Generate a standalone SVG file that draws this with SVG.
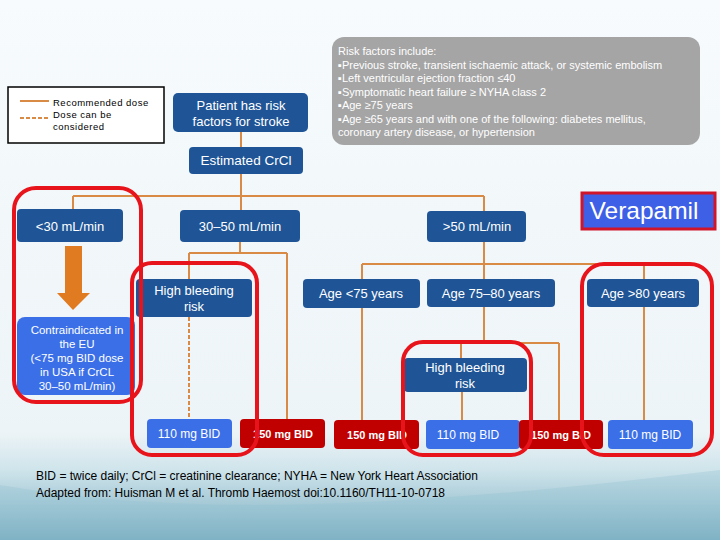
<svg xmlns="http://www.w3.org/2000/svg" width="720" height="540" viewBox="0 0 720 540">
<defs>
<linearGradient id="bg" x1="0" y1="0" x2="0" y2="1">
<stop offset="0" stop-color="#f7fbfd"/>
<stop offset="0.8" stop-color="#edf4f7"/>
<stop offset="0.87" stop-color="#cfe4eb"/>
<stop offset="1" stop-color="#79adc0"/>
</linearGradient>
<style>
.dk{fill:#1f5596}
.lb{fill:#3b6fe8}
.rd{fill:#c00000}
.t{font-family:"Liberation Sans",Arial,sans-serif;fill:#ffffff;text-anchor:middle}
.c{stroke:#d98a45;stroke-width:2;fill:none}
.ro{fill:none;stroke:#e8141c;stroke-width:4}
</style>
</defs>
<rect x="0" y="0" width="720" height="540" fill="url(#bg)"/>
<path d="M0,485 C200,520 430,505 720,470 L720,540 L0,540 Z" fill="#8fbfcf" opacity="0.3"/>

<g id="legend">
<rect x="8" y="87" width="156" height="56" fill="#ffffff" stroke="#000" stroke-width="1.5"/>
<line x1="20" y1="101" x2="49" y2="101" stroke="#d98a45" stroke-width="2"/>
<line x1="20" y1="118" x2="49" y2="118" stroke="#d98a45" stroke-width="2" stroke-dasharray="4,2"/>
<g font-family="Liberation Sans,Arial,sans-serif" font-size="9.5" fill="#000" letter-spacing="0.5">
<text x="53" y="106">Recommended dose</text>
<text x="53" y="118">Dose can be</text>
<text x="53" y="130">considered</text>
</g>
</g>

<g id="connectors">
<line class="c" x1="241" y1="132" x2="241" y2="147"/>
<line class="c" x1="241" y1="174" x2="241" y2="210"/>
<line class="c" x1="73" y1="196" x2="484" y2="196"/>
<line class="c" x1="73" y1="196" x2="73" y2="209"/>
<line class="c" x1="484" y1="196" x2="484" y2="211"/>
<line class="c" x1="240" y1="242" x2="240" y2="253"/>
<line class="c" x1="189" y1="253" x2="287" y2="253"/>
<line class="c" x1="189" y1="253" x2="189" y2="279"/>
<line class="c" x1="287" y1="253" x2="287" y2="419"/>
<line class="c" x1="189" y1="317" x2="189" y2="419" stroke-dasharray="4,2"/>
<line class="c" x1="484" y1="242" x2="484" y2="264"/>
<line class="c" x1="362" y1="264" x2="644" y2="264"/>
<line class="c" x1="362" y1="264" x2="362" y2="420"/>
<line class="c" x1="484" y1="264" x2="484" y2="279"/>
<line class="c" x1="644" y1="264" x2="644" y2="420"/>
<line class="c" x1="484" y1="307" x2="484" y2="343"/>
<line class="c" x1="461" y1="343" x2="559" y2="343"/>
<line class="c" x1="461" y1="343" x2="461" y2="358"/>
<line class="c" x1="559" y1="343" x2="559" y2="420"/>
<line class="c" x1="462" y1="392" x2="462" y2="420"/>
<polygon points="65,246 82,246 82,293 90,293 73,310 57,293 65,293" fill="#e07b22"/>
</g>

<g id="risk-factors">
<rect x="332" y="37" width="368" height="108" rx="12" fill="#a5a5a5"/>
<g font-family="Liberation Sans,Arial,sans-serif" font-size="11" fill="#ffffff">
<text x="338" y="55">Risk factors include:</text>
<text x="338" y="68.5">▪Previous stroke, transient ischaemic attack, or systemic embolism</text>
<text x="338" y="82">▪Left ventricular ejection fraction ≤40</text>
<text x="338" y="95.5">▪Symptomatic heart failure ≥ NYHA class 2</text>
<text x="338" y="109">▪Age ≥75 years</text>
<text x="338" y="122.5">▪Age ≥65 years and with one of the following: diabetes mellitus,</text>
<text x="338" y="136">coronary artery disease, or hypertension</text>
</g>
</g>

<g id="patient">
<rect class="dk" x="173" y="93" width="135" height="39" rx="5"/>
<text class="t" x="241" y="110" font-size="13">Patient has risk</text>
<text class="t" x="241" y="126" font-size="13">factors for stroke</text>
</g>
<g id="crcl">
<rect class="dk" x="189" y="147" width="114" height="27" rx="4"/>
<text class="t" x="246" y="165" font-size="13.5">Estimated CrCl</text>
</g>
<g id="lt30">
<rect class="dk" x="17" y="209" width="106" height="33" rx="4"/>
<text class="t" x="70" y="231" font-size="13">&lt;30 mL/min</text>
</g>
<g id="r3050">
<rect class="dk" x="180" y="210" width="120" height="32" rx="4"/>
<text class="t" x="240" y="231" font-size="13">30–50 mL/min</text>
</g>
<g id="gt50">
<rect class="dk" x="427" y="211" width="99" height="31" rx="4"/>
<text class="t" x="477" y="231" font-size="13">&gt;50 mL/min</text>
</g>
<g id="verapamil">
<rect x="582" y="193" width="133" height="36" fill="#3d60e6" stroke="#d0142a" stroke-width="3"/>
<text class="t" x="644" y="219" font-size="24.5">Verapamil</text>
</g>
<g id="contra">
<rect class="lb" x="17" y="317" width="118" height="78" rx="8"/>
<text class="t" x="77" y="334" font-size="11.5">Contraindicated in</text>
<text class="t" x="77" y="348" font-size="11.5">the EU</text>
<text class="t" x="77" y="362" font-size="11.5">(&lt;75 mg BID dose</text>
<text class="t" x="77" y="376" font-size="11.5">in USA if CrCL</text>
<text class="t" x="77" y="390" font-size="11.5">30–50 mL/min)</text>
</g>
<g id="hbr1">
<rect class="dk" x="136" y="279" width="116" height="38" rx="4"/>
<text class="t" x="194" y="295" font-size="13">High bleeding</text>
<text class="t" x="194" y="311" font-size="13">risk</text>
</g>
<g id="age75">
<rect class="dk" x="303" y="279" width="117" height="29" rx="4"/>
<text class="t" x="361" y="298" font-size="13">Age &lt;75 years</text>
</g>
<g id="age7580">
<rect class="dk" x="427" y="279" width="128" height="28" rx="4"/>
<text class="t" x="491" y="298" font-size="13">Age 75–80 years</text>
</g>
<g id="age80">
<rect class="dk" x="587" y="279" width="112" height="28" rx="4"/>
<text class="t" x="643" y="298" font-size="13">Age &gt;80 years</text>
</g>
<g id="hbr2">
<rect class="dk" x="404" y="358" width="123" height="34" rx="4"/>
<text class="t" x="465" y="372" font-size="13">High bleeding</text>
<text class="t" x="465" y="388" font-size="13">risk</text>
</g>
<g id="d1">
<rect class="lb" x="147" y="419" width="85" height="29" rx="4"/>
<text class="t" x="189" y="438" font-size="12">110 mg BID</text>
</g>
<g id="d2">
<rect class="rd" x="240" y="419" width="85" height="29" rx="4"/>
<text class="t" x="283" y="438" font-size="11" font-weight="bold">150 mg BID</text>
</g>
<g id="d3">
<rect class="rd" x="334" y="420" width="85" height="29" rx="4"/>
<text class="t" x="377" y="439" font-size="11" font-weight="bold">150 mg BID</text>
</g>
<g id="d4">
<rect class="lb" x="426" y="420" width="94" height="29" rx="4"/>
<text class="t" x="468" y="439" font-size="12">110 mg BID</text>
</g>
<g id="d5">
<rect class="rd" x="519" y="420" width="84" height="29" rx="4"/>
<text class="t" x="561" y="439" font-size="11" font-weight="bold">150 mg BID</text>
</g>
<g id="d6">
<rect class="lb" x="608" y="420" width="85" height="29" rx="4"/>
<text class="t" x="650" y="439" font-size="12">110 mg BID</text>
</g>

<g id="highlights">
<rect class="ro" x="14" y="188" width="127" height="214" rx="22"/>
<rect class="ro" x="132" y="263" width="125" height="192" rx="20"/>
<rect class="ro" x="403" y="342" width="128" height="113" rx="20"/>
<rect class="ro" x="582" y="264" width="130" height="191" rx="22"/>
</g>

<g id="footnote" font-family="Liberation Sans,Arial,sans-serif" font-size="12" fill="#000">
<text x="36" y="480" textLength="442" lengthAdjust="spacingAndGlyphs">BID = twice daily; CrCl = creatinine clearance; NYHA = New York Heart Association</text>
<text x="36" y="497" textLength="409" lengthAdjust="spacingAndGlyphs">Adapted from: Huisman M et al. Thromb Haemost doi:10.1160/TH11-10-0718</text>
</g>
</svg>
